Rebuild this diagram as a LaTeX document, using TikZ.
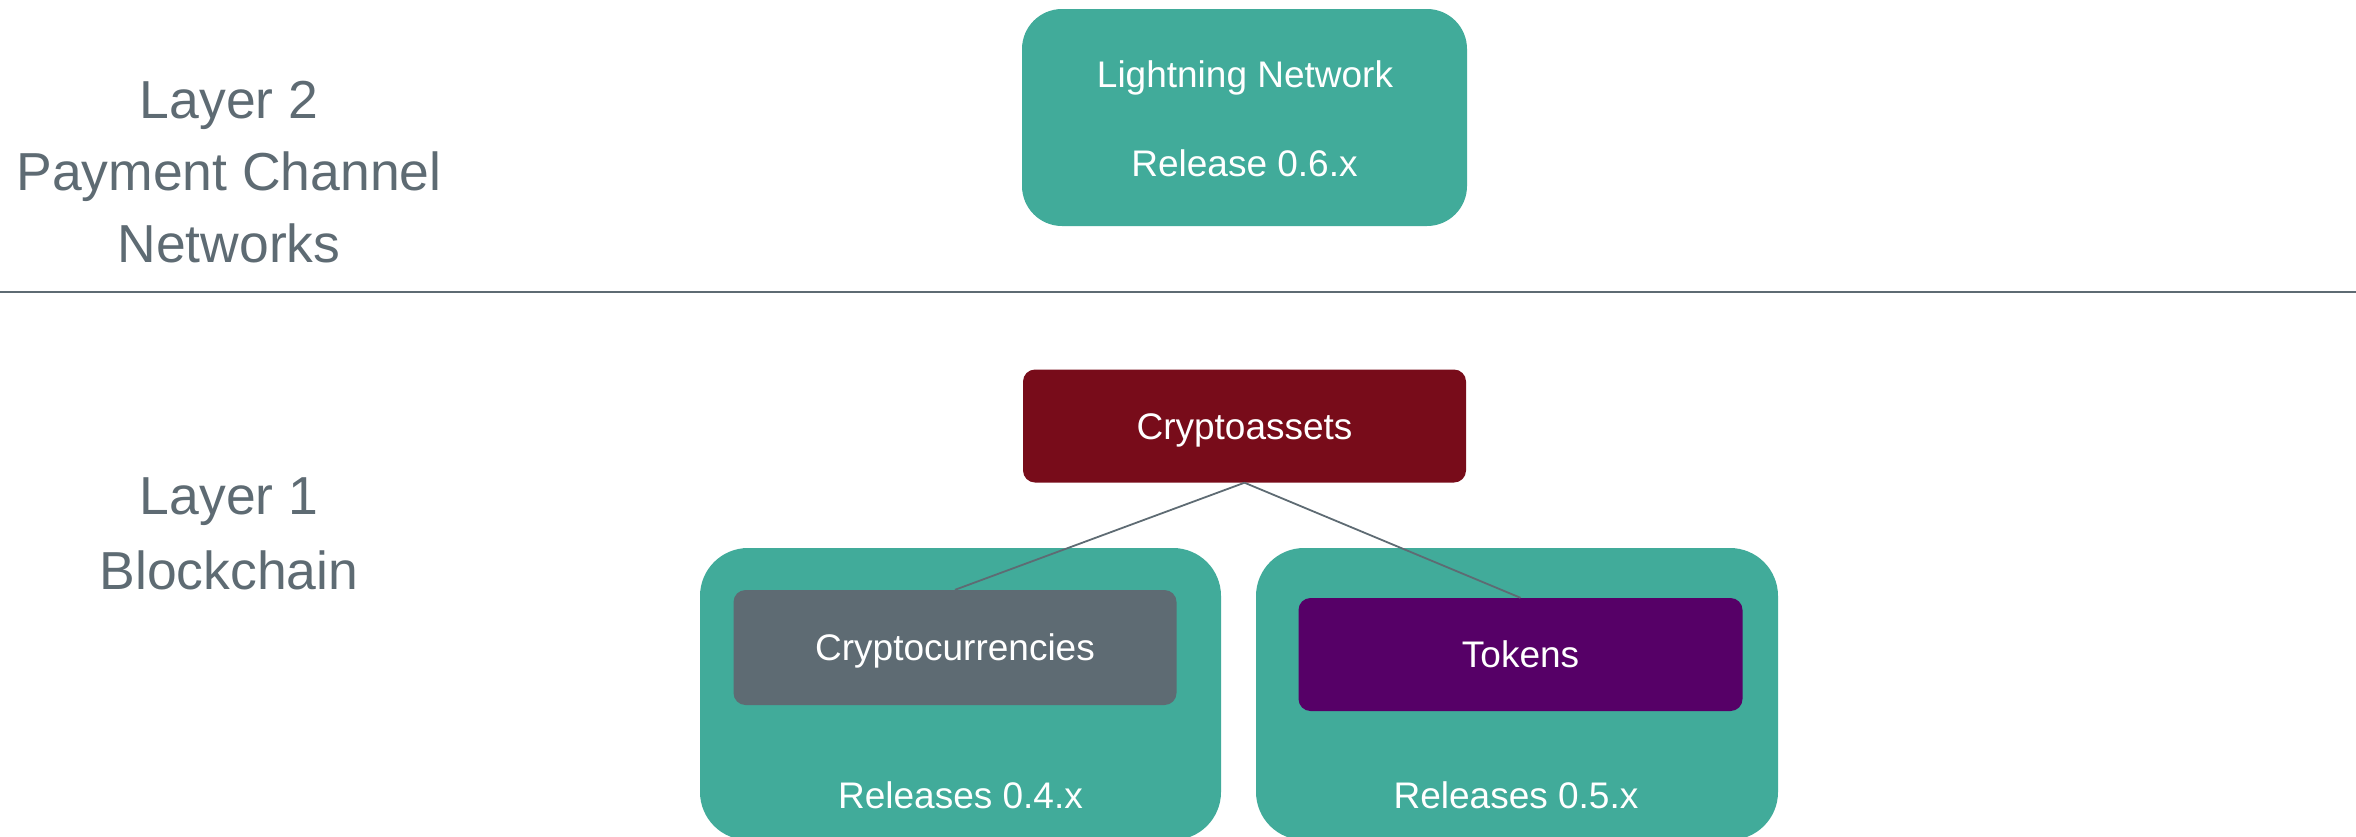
\documentclass[tikz,border=0pt]{standalone}
\usepackage{fontspec}
\setmainfont{Liberation Sans}
\definecolor{teal1}{HTML}{41AB9A}
\definecolor{wine}{HTML}{780C1A}
\definecolor{slate}{HTML}{5E6B73}
\definecolor{plum}{HTML}{560067}
\tikzset{
  box/.style={rectangle, inner sep=0pt, draw=none, text=white, font=\fontsize{37}{44}\selectfont},
  bigbox/.style={box, fill=teal1, rounded corners=48pt},
  smallbox/.style={box, rounded corners=12pt, text height=26.6pt, text depth=0pt},
  layertext/.style={text=slate, font=\fontsize{53.5}{72}\selectfont, align=center, inner sep=0pt},
  labeltext/.style={text=white, font=\fontsize{37}{44}\selectfont, inner sep=0pt, anchor=base},
  link/.style={draw=slate, line width=1.8pt}
}
\begin{document}
\begin{tikzpicture}[x=1pt,y=-1pt]
\useasboundingbox (0,0) rectangle (2356,836);
% layer labels
\node[layertext] (l2) at (229,172) {Layer 2\\Payment Channel\\Networks};
\node[layertext, font=\fontsize{53.5}{75}\selectfont] (l1) at (229,534) {Layer 1\\Blockchain};
% separator
\coordinate (sepL) at (0,292);
\coordinate (sepR) at (2356,292);
\draw[slate, line width=2.5pt] (sepL) -- (sepR);
% layer 2 box
\node[bigbox, rounded corners=40pt, minimum width=445pt, minimum height=217pt] (ln) at (1244.5,117.5) {};
\node[labeltext] (lnt1) at (1245,87.3) {Lightning Network};
\node[labeltext] (lnt2) at (1244.5,176) {Release 0.6.x};
% teal release boxes
\node[bigbox, minimum width=521pt, minimum height=292pt] (r4) at (960.5,694) {};
\node[bigbox, minimum width=522pt, minimum height=292pt] (r5) at (1517,694) {};
\node[labeltext] (r4t) at (960.5,808) {Releases 0.4.x};
\node[labeltext] (r5t) at (1516,808) {Releases 0.5.x};
% cryptoassets
\node[smallbox, fill=wine, minimum width=443pt, minimum height=113pt] (ca) at (1244.5,426) {Cryptoassets};
\node[smallbox, fill=slate, minimum width=443pt, minimum height=115pt] (cc) at (955,647.5) {Cryptocurrencies};
\node[smallbox, fill=plum, minimum width=444pt, minimum height=113pt] (tk) at (1520.5,654.5) {Tokens};
\draw[link] (ca.south) -- (cc.north);
\draw[link] (ca.south) -- (tk.north);
\end{tikzpicture}
\end{document}
